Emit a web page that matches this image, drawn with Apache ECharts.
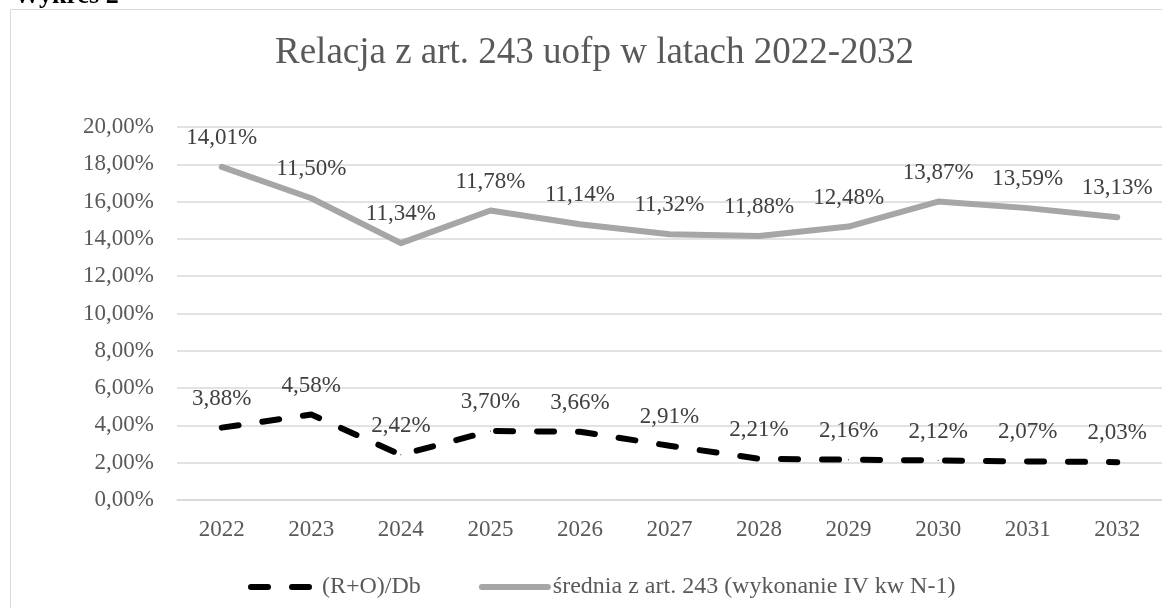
<!DOCTYPE html>
<html>
<head>
<meta charset="utf-8">
<script src="https://cdn.jsdelivr.net/npm/echarts@6/dist/echarts.min.js"></script>
<style>
  html, body { margin: 0; padding: 0; background: #fff; }
  #chart { width: 1162px; height: 608px; }
</style>
</head>
<body>
<div id="chart"></div>
<script>
// lata
const years = ['2022', '2023', '2024', '2025', '2026', '2027', '2028', '2029', '2030', '2031', '2032']
// (R+O)/Db
const roDb = [3.88, 4.58, 2.42, 3.70, 3.66, 2.91, 2.21, 2.16, 2.12, 2.07, 2.03]
const srednia = [17.86, 16.18, 13.77, 15.52, 14.79, 14.25, 14.16, 14.66, 16.0, 15.65, 15.16]
// etykiety przy szarej linii (tak jak na wykresie)
const sredniaLabels = ['14,01%', '11,50%', '11,34%', '11,78%', '11,14%', '11,32%', '11,88%', '12,48%', '13,87%', '13,59%', '13,13%']

const font = '"Liberation Serif", "Times New Roman", serif'
const pct = (v) => v.toFixed(2).replace('.', ',') + '%'

const chart = echarts.init(document.getElementById('chart'))
chart.setOption({
  animation: false,
  textStyle: { fontFamily: font },
  graphic: [
    {
      type: 'rect',
      shape: { x: 10.5, y: 9.5, width: 1200, height: 700 },
      style: { fill: 'none', stroke: '#d9d9d9', lineWidth: 1 },
      silent: true
    },
    {
      type: 'text',
      x: 14,
      y: 9,
      style: {
        text: 'Wykres 2',
        font: 'bold 26px ' + font,
        fill: '#000',
        verticalAlign: 'bottom'
      }
    }
  ],
  title: {
    text: 'Relacja z art. 243 uofp w latach 2022-2032',
    left: 270,
    top: 30,
    textStyle: { fontFamily: font, fontSize: 37, fontWeight: 'normal', color: '#595959' }
  },
  legend: {
    left: 243,
    top: 570,
    itemWidth: 66,
    itemHeight: 14,
    itemGap: 58,
    itemStyle: { opacity: 0 },
    lineStyle: { width: 6, cap: 'round' },
    textStyle: { fontFamily: font, fontSize: 24, color: '#595959' },
    data: ['(R+O)/Db', 'średnia z art. 243 (wykonanie IV kw N-1)']
  },
  grid: { left: 177, width: 995, top: 127, bottom: 108, containLabel: false },
  xAxis: {
    type: 'category',
    data: years,
    axisLine: { lineStyle: { color: '#d9d9d9', width: 1.5 } },
    axisTick: { show: false },
    axisLabel: { fontFamily: font, fontSize: 23, color: '#595959', margin: 18 }
  },
  yAxis: {
    type: 'value',
    min: 0,
    max: 20,
    interval: 2,
    axisLine: { show: false },
    axisTick: { show: false },
    splitLine: { lineStyle: { color: '#d9d9d9', width: 1.5 } },
    axisLabel: {
      fontFamily: font,
      fontSize: 23,
      color: '#595959',
      margin: 23,
      formatter: (v) => pct(v)
    }
  },
  series: [
    {
      name: '(R+O)/Db',
      type: 'line',
      data: roDb,
      symbol: 'circle',
      symbolSize: 1,
      lineStyle: { color: '#000', width: 6, type: [17, 24], cap: 'round' },
      itemStyle: { color: '#000' },
      label: {
        show: true,
        position: 'top',
        distance: 17,
        fontFamily: font,
        fontSize: 23,
        color: '#404040',
        formatter: (p) => pct(p.value)
      },
      z: 3
    },
    {
      name: 'średnia z art. 243 (wykonanie IV kw N-1)',
      type: 'line',
      data: srednia,
      symbol: 'circle',
      symbolSize: 1,
      lineStyle: { color: '#a6a6a6', width: 6, cap: 'round', join: 'round' },
      itemStyle: { color: '#a6a6a6' },
      label: {
        show: true,
        position: 'top',
        distance: 17,
        fontFamily: font,
        fontSize: 23,
        color: '#404040',
        formatter: (p) => sredniaLabels[p.dataIndex]
      },
      z: 2
    }
  ]
})
</script>
</body>
</html>
